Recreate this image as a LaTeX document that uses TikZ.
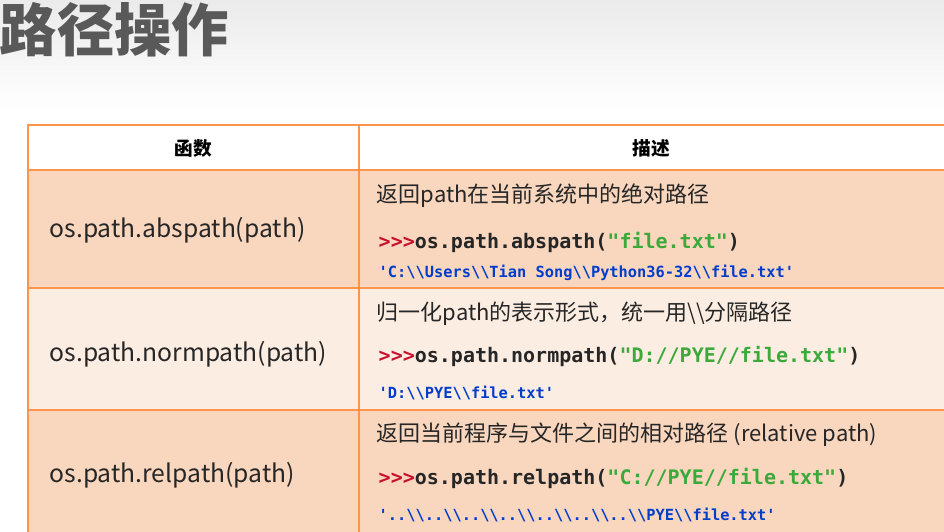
\documentclass[tikz,border=0pt]{standalone}
\usepackage{fontspec}
\setmainfont{Noto Sans CJK SC}
\newfontfamily\cjk{Noto Sans CJK SC}
\setmonofont{DejaVu Sans Mono}
\begin{document}
\begin{tikzpicture}[x=0.75pt,y=-0.75pt,
  cell/.style={draw=orange!80!red!70,line width=1.2pt},
  fn/.style={anchor=west,font=\fontsize{18.5}{20}\selectfont,text=black!85},
  desc/.style={anchor=west,font=\fontsize{16.5}{18}\selectfont,text=black!85},
  code/.style={anchor=west,font=\ttfamily\bfseries\fontsize{15}{17}\selectfont,text=black!85},
  res/.style={anchor=west,font=\ttfamily\bfseries\fontsize{11.5}{13}\selectfont,text=blue!70!cyan!80!black},
  hd/.style={font=\bfseries\fontsize{14}{16}\selectfont}]
\definecolor{rowA}{HTML}{F9D6BE}
\definecolor{rowB}{HTML}{FCEDE2}
\definecolor{gr}{HTML}{3BAA3B}
\definecolor{pr}{HTML}{C8102E}
\useasboundingbox (0,0) rectangle (944,531);
\shade[top color=black!8,bottom color=white] (0,0) rectangle (944,110);
\node[anchor=west,font=\bfseries\fontsize{43}{46}\selectfont,text=black!65] (title) at (-5,30) {路径操作};
\filldraw[cell,fill=white] (28,125) rectangle (359,170);
\filldraw[cell,fill=white] (359,125) rectangle (946,170);
\filldraw[cell,fill=rowA] (28,170) rectangle (359,288);
\filldraw[cell,fill=rowA] (359,170) rectangle (946,288);
\filldraw[cell,fill=rowB] (28,288) rectangle (359,410);
\filldraw[cell,fill=rowB] (359,288) rectangle (946,410);
\filldraw[cell,fill=rowA] (28,410) rectangle (359,533);
\filldraw[cell,fill=rowA] (359,410) rectangle (946,533);
\node[hd] (h1) at (193,148) {函数};
\node[hd] (h2) at (651,148) {描述};
\node[fn] (f1) at (45,230) {os.path.abspath(path)};
\node[fn] (f2) at (45,354) {os.path.normpath(path)};
\node[fn] (f3) at (45,475) {os.path.relpath(path)};
\node[desc] (d1) at (372,196) {返回path在当前系统中的绝对路径};
\node[code] (c1) at (374,242) {\textcolor{pr}{>{}>{}>}os.path.abspath(\textcolor{gr}{"file.txt"})};
\node[res] (r1) at (374,273) {'C:\textbackslash\textbackslash Users\textbackslash\textbackslash Tian Song\textbackslash\textbackslash Python36-32\textbackslash\textbackslash file.txt'};
\node[desc] (d2) at (372,314) {归一化path的表示形式，统一用\textbackslash\textbackslash 分隔路径};
\node[code] (c2) at (374,356) {\textcolor{pr}{>{}>{}>}os.path.normpath(\textcolor{gr}{"D://PYE//file.txt"})};
\node[res] (r2) at (374,393) {'D:\textbackslash\textbackslash PYE\textbackslash\textbackslash file.txt'};
\node[desc] (d3) at (372,435) {返回当前程序与文件之间的相对路径 (relative path)};
\node[code] (c3) at (374,478) {\textcolor{pr}{>{}>{}>}os.path.relpath(\textcolor{gr}{"C://PYE//file.txt"})};
\node[res] (r3) at (374,515) {'..\textbackslash\textbackslash..\textbackslash\textbackslash..\textbackslash\textbackslash..\textbackslash\textbackslash..\textbackslash\textbackslash..\textbackslash\textbackslash..\textbackslash\textbackslash PYE\textbackslash\textbackslash file.txt'};
\end{tikzpicture}
\end{document}
